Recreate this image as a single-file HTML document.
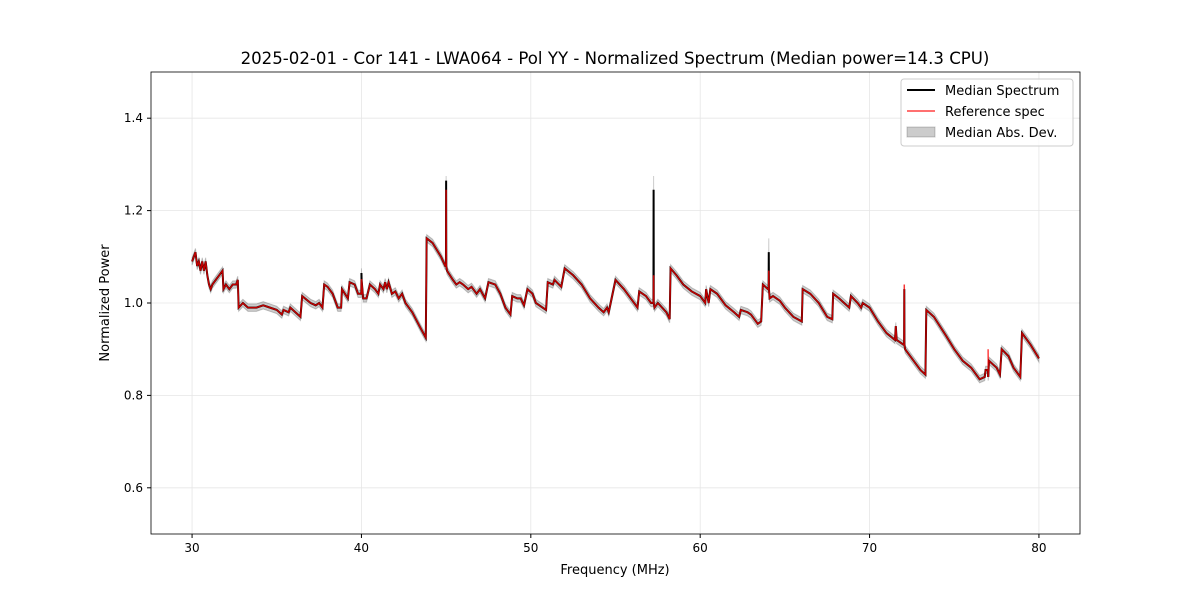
<!DOCTYPE html>
<html><head><meta charset="utf-8"><style>
body{margin:0;background:#fff;font-family:"Liberation Sans","DejaVu Sans",sans-serif}
svg text{font-family:"DejaVu Sans","Liberation Sans",sans-serif}
</style></head><body>
<svg id="c" width="1200" height="600" xmlns="http://www.w3.org/2000/svg"></svg>
<script>
const freqs=[30.0,30.2,30.3,30.4,30.5,30.6,30.7,30.8,30.9,31.0,31.1,31.2,31.4,31.6,31.8,31.85,32.0,32.2,32.4,32.6,32.7,32.75,33.0,33.3,33.8,34.2,34.6,35.0,35.3,35.4,35.7,35.8,36.1,36.4,36.5,37.0,37.3,37.5,37.7,37.8,38.0,38.3,38.6,38.8,38.85,39.2,39.3,39.6,39.8,40.0,40.1,40.3,40.5,40.8,41.0,41.1,41.3,41.4,41.5,41.6,41.8,42.0,42.2,42.4,42.6,43.0,43.5,43.8,43.85,44.2,44.7,44.95,45.05,45.4,45.6,45.8,46.0,46.3,46.5,46.8,47.0,47.3,47.5,47.9,48.2,48.5,48.8,48.9,49.2,49.4,49.6,49.8,50.1,50.3,50.5,50.9,51.0,51.3,51.4,51.8,52.0,52.5,53.0,53.5,54.0,54.3,54.5,54.6,55.0,55.5,56.0,56.3,56.4,56.8,57.1,57.3,57.5,58.0,58.2,58.25,58.6,59.0,59.5,60.0,60.3,60.35,60.5,60.6,61.0,61.5,62.0,62.3,62.4,62.8,63.0,63.4,63.6,63.7,64.0,64.1,64.3,64.7,65.0,65.5,66.0,66.05,66.5,67.0,67.5,67.8,67.85,68.2,68.5,68.8,68.9,69.3,69.5,69.6,70.0,70.5,71.0,71.5,71.55,71.6,72.0,72.1,72.5,73.0,73.3,73.35,73.8,74.5,75.0,75.5,76.0,76.3,76.5,76.8,76.85,77.0,77.05,77.5,77.7,77.8,78.2,78.5,78.9,79.0,79.5,80.0];
const medianVals=[1.09,1.11,1.08,1.09,1.07,1.09,1.07,1.09,1.06,1.04,1.03,1.04,1.05,1.06,1.07,1.03,1.04,1.03,1.04,1.04,1.05,0.99,1.0,0.99,0.99,0.995,0.99,0.985,0.975,0.985,0.98,0.99,0.98,0.97,1.015,1.0,0.995,1.0,0.99,1.04,1.035,1.02,0.99,0.99,1.03,1.01,1.045,1.04,1.02,1.05,1.01,1.01,1.04,1.03,1.02,1.04,1.03,1.045,1.03,1.045,1.02,1.025,1.01,1.02,1.0,0.98,0.945,0.925,1.14,1.13,1.1,1.08,1.07,1.05,1.04,1.045,1.04,1.03,1.035,1.02,1.03,1.01,1.045,1.04,1.02,0.99,0.975,1.015,1.01,1.01,0.995,1.03,1.02,1.0,0.995,0.985,1.045,1.04,1.05,1.035,1.075,1.06,1.04,1.01,0.99,0.98,0.99,0.98,1.05,1.03,1.005,0.99,1.025,1.015,1.0,0.99,1.0,0.98,0.965,1.075,1.06,1.04,1.025,1.015,1.0,1.03,1.0,1.03,1.02,0.995,0.98,0.97,0.985,0.98,0.975,0.955,0.96,1.04,1.03,1.01,1.015,1.005,0.99,0.97,0.96,1.03,1.02,1.0,0.97,0.965,1.02,1.01,1.0,0.99,1.015,1.0,0.99,1.0,0.99,0.96,0.935,0.92,0.95,0.92,0.91,0.9,0.88,0.855,0.845,0.985,0.97,0.93,0.9,0.875,0.86,0.845,0.835,0.84,0.855,0.84,0.875,0.86,0.845,0.9,0.885,0.86,0.84,0.935,0.91,0.88];
const spikeFreqs=[40.0,45.0,57.25,64.05,72.05,77.0];
const spikeMedian=[1.065,1.265,1.245,1.11,1.03,0.85];
const spikeRef=[1.05,1.245,1.06,1.07,1.04,0.9];
const spikeMAD=[0.01,0.01,0.03,0.03,0.01,0.01];
const madWidth=0.008;
const xTicks=[30,40,50,60,70,80];
const yTicks=[0.6,0.8,1.0,1.2,1.4];

const svg=document.getElementById('c');const NS='http://www.w3.org/2000/svg';
const L=151,R=1080,T=72,B=534,xmin=27.575,xmax=82.425,ymin=0.5,ymax=1.5;
const X=f=>L+(f-xmin)/(xmax-xmin)*(R-L), Y=v=>B-(v-ymin)/(ymax-ymin)*(B-T);
function el(t,a,p){const e=document.createElementNS(NS,t);for(const k in a)e.setAttribute(k,a[k]);(p||svg).appendChild(e);return e;}
const grid=el('g',{});


xTicks.forEach(t=>{el('line',{x1:X(t),x2:X(t),y1:T,y2:B,stroke:'#e6e6e6','stroke-width':0.8},grid);});
yTicks.forEach(t=>{el('line',{x1:L,x2:R,y1:Y(t),y2:Y(t),stroke:'#e6e6e6','stroke-width':0.8},grid);});
function series(vals,spk){const pts=freqs.map((f,i)=>[f,vals[i]]);spikeFreqs.forEach((f,i)=>{pts.push([f-0.01,null]);pts.push([f,spk[i]]);});pts.sort((a,b)=>a[0]-b[0]);
 const out=[];pts.forEach((p,i)=>{if(p[1]===null){let a=pts[i-1];out.push([p[0],a[1]]);}else out.push(p);});
 const res=[];out.forEach((p,i)=>{res.push(p);if(spikeFreqs.includes(p[0])){res.push([p[0]+0.01,out[i-1][1]]);}});return res;}
const med=series(medianVals,spikeMedian);
const ref=series(medianVals,spikeRef);
const up=series(medianVals.map(v=>v+madWidth),spikeMedian.map((v,i)=>v+spikeMAD[i]));
const lo=series(medianVals.map(v=>v-madWidth),spikeMedian.map((v,i)=>v-spikeMAD[i]));
const band=el('path',{d:'M'+up.map(p=>X(p[0])+','+Y(p[1])).join('L')+'L'+lo.reverse().map(p=>X(p[0])+','+Y(p[1])).join('L')+'Z',fill:'#000','fill-opacity':0.2,stroke:'#000','stroke-opacity':0.2});


const ml=el('path',{d:'M'+med.map(p=>X(p[0])+','+Y(p[1])).join('L'),fill:'none',stroke:'#000','stroke-width':2});


const rl=el('path',{d:'M'+ref.map(p=>X(p[0])+','+Y(p[1])).join('L'),fill:'none',stroke:'#ff0000','stroke-opacity':0.75,'stroke-width':1.5});


const fr=el('rect',{x:L,y:T,width:R-L,height:B-T,fill:'none',stroke:'#000','stroke-width':0.8});


xTicks.forEach(t=>{el('line',{x1:X(t),x2:X(t),y1:B,y2:B+4,stroke:'#000'});const tx=el('text',{x:X(t),y:B+18,'text-anchor':'middle','font-size':12});tx.textContent=t;

});
yTicks.forEach(t=>{el('line',{x1:L-4,x2:L,y1:Y(t),y2:Y(t),stroke:'#000'});const tx=el('text',{x:L-8,y:Y(t)+4,'text-anchor':'end','font-size':12});tx.textContent=t.toFixed(1);

});
</script>
<svg width="1200" height="600" style="position:absolute;left:0;top:0" xmlns="http://www.w3.org/2000/svg">
<text x="615" y="64" text-anchor="middle" font-size="16.6">2025-02-01 - Cor 141 - LWA064 - Pol YY - Normalized Spectrum (Median power=14.3 CPU)</text>
<text x="615" y="574" text-anchor="middle" font-size="13">Frequency (MHz)</text>
<text transform="translate(109,303) rotate(-90)" text-anchor="middle" font-size="13">Normalized Power</text>
<g>
<rect x="901" y="79" width="172" height="67" rx="3" fill="#fff" fill-opacity="0.8" stroke="#ccc"/>
<line x1="907" x2="935" y1="90" y2="90" stroke="#000" stroke-width="2"/>
<text x="945" y="95" font-size="13">Median Spectrum</text>
<line x1="907" x2="935" y1="111" y2="111" stroke="#ff0000" stroke-opacity="0.75" stroke-width="1.5"/>
<text x="945" y="116" font-size="13">Reference spec</text>
<rect x="907" y="127" width="28" height="10" fill="#000" fill-opacity="0.2" stroke="#000" stroke-opacity="0.2"/>
<text x="945" y="137" font-size="13">Median Abs. Dev.</text>
</g>
</svg>
</body></html>
